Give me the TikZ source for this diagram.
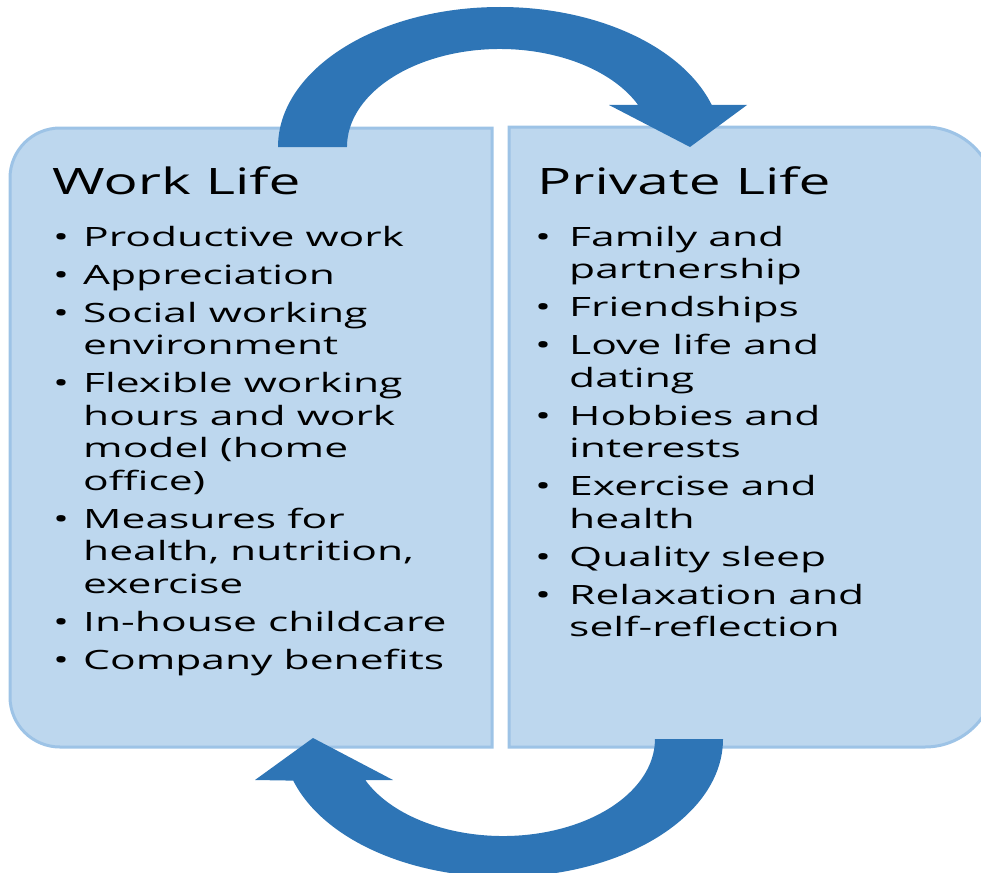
\documentclass[tikz,border=0pt]{standalone}
\usepackage{fontspec}
\setmainfont{Open Sans}[FakeStretch=1.56]
\newfontfamily\itemfont{Open Sans}[FakeStretch=1.6]
\newcommand\itemlines[1]{\begin{tabular}[t]{@{}l@{}}#1\end{tabular}}
\definecolor{boxfill}{HTML}{BDD7EE}
\definecolor{boxline}{HTML}{9DC3E6}
\definecolor{arrowblue}{HTML}{2E75B6}
\tikzset{
  lifebox/.style={fill=boxfill, draw=boxline, line width=3pt},
  swaparrow/.style={fill=arrowblue},
  headline/.style={anchor=base west, inner sep=0pt, font=\fontsize{36.4}{44}\selectfont},
  bulletmark/.style={anchor=base, inner sep=0pt, font=\itemfont\fontsize{26.6}{32.5}\selectfont},
  itemtext/.style={anchor=base west, inner sep=0pt, font=\itemfont\fontsize{26.6}{32.5}\selectfont}
}

\begin{document}
\begin{tikzpicture}[x=1pt, y=-1pt]
   \useasboundingbox (0,0) rectangle (981,872);
   \clip (0,0) rectangle (981,872);
   % the two boxes
   \draw[lifebox] (492,747) -- (492,128) [rounded corners=50pt] -- (10,128) -- (10,747) [sharp corners] -- cycle;
   \draw[lifebox] (509,747) -- (509,127) [rounded corners=70pt] -- (995,127) -- (995,747) [sharp corners] -- cycle;
   % the two curved arrows
   \fill[swaparrow] (278,147) arc[start angle=180, end angle=342.54, x radius=222, y radius=140]
     -- (747,105) -- (690,147) -- (609,105) -- (638.2,105)
     arc[start angle=334.62, end angle=180, x radius=153, y radius=98] -- cycle;
   \fill[swaparrow] (723,739) arc[start angle=0, end angle=162.45, x radius=220, y radius=138]
     -- (255,780) -- (313,738) -- (393,780) -- (365.2,780)
     arc[start angle=155, end angle=0, x radius=152, y radius=97] -- cycle;
   % headings
   \node[headline] (worktitle) at (52,194) {Work Life};
   \node[headline] (privatetitle) at (537,194) {Private Life};
   % bullet lists
   \foreach \y/\txt [count=\n] in {246/Productive work, 284/Appreciation,
       322/{Social working\\environment}, 392.5/{Flexible working\\hours and work\\model (home\\office)},
       528/{Measures for\\health, nutrition,\\exercise}, 631/In-house childcare, 669/Company benefits}
   {
     \node[bulletmark] (workdot\n) at (61,\y) {•};
     \node[itemtext] (workitem\n) at (83,\y) {\itemlines{\txt}};
   }
   \foreach \y/\txt [count=\n] in {246/{Family and\\partnership}, 316.5/Friendships,
       354.5/{Love life and\\dating}, 425/{Hobbies and\\interests}, 495.5/{Exercise and\\health},
       566/Quality sleep, 604/{Relaxation and\\self-reflection}}
   {
     \node[bulletmark] (privatedot\n) at (543,\y) {•};
     \node[itemtext] (privateitem\n) at (569,\y) {\itemlines{\txt}};
   }
\end{tikzpicture}
\end{document}
